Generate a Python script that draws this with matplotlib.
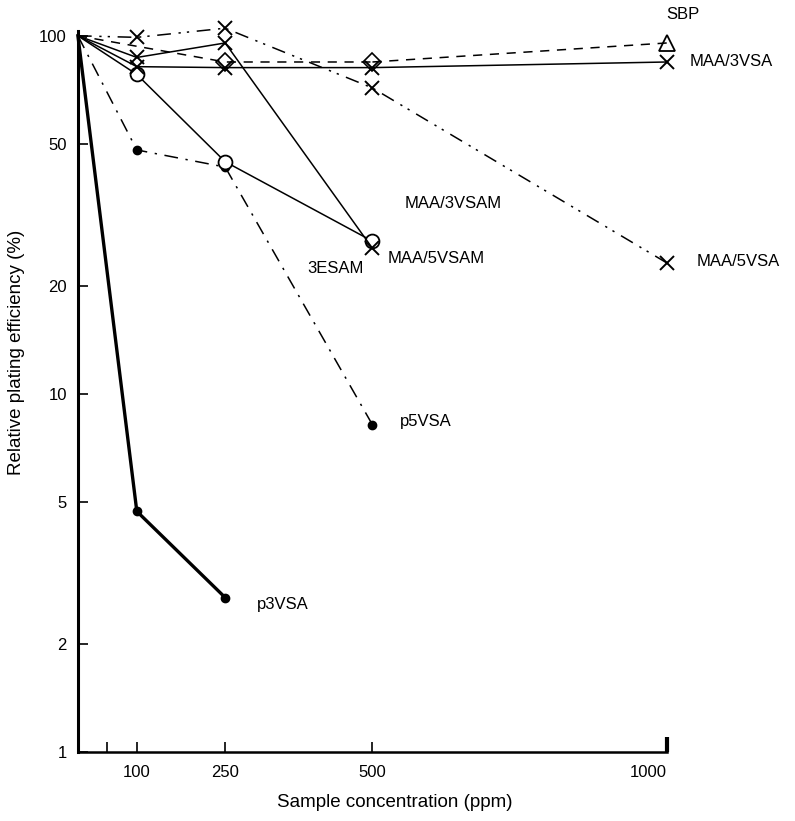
import matplotlib
matplotlib.use("Agg")
import matplotlib.pyplot as plt

plt.rcParams.update({
    "font.family": ["Liberation Sans", "DejaVu Sans"],
    "font.size": 12,
})

# sample concentration (ppm) and relative plating efficiency (%)
conc = [0, 100, 250, 500, 1000]

p3vsa_x = [0, 100, 250]
p3vsa_y = [100, 4.7, 2.7]

p5vsa_x = [0, 100, 250, 500]
p5vsa_y = [100, 48, 43, 8.2]

esam_x = [0, 100, 250, 500]
esam_y = [100, 78, 44.5, 26.7]

maa3vsam_x = [0, 100, 250, 500]
maa3vsam_y = [100, 87, 95.5, 25.5]

maa3vsa_x = conc
maa3vsa_y = [100, 82, 81.5, 81.5, 84.5]

maa5vsa_x = conc
maa5vsa_y = [100, 99, 105, 71.5, 23.2]

sbp_x = [0, 250, 500, 1000]
sbp_y = [100, 84.5, 84.5, 95.5]

xticks = [50, 100, 250, 500, 1000]
xticklabels = ["", "100", "250", "500", "1000"]
yticks = [1, 2, 5, 10, 20, 50, 100]
yticklabels = ["1", "2", "5", "10", "20", "50", "100"]

fig = plt.figure(figsize=(7.95, 8.21), dpi=100)
ax = fig.add_axes([0.098, 0.084, 0.741, 0.878])
ax.set_yscale("log")
ax.set_xlim(0, 1000)
ax.set_ylim(1, 103)

for s in ("top", "right"):
    ax.spines[s].set_visible(False)
ax.spines["left"].set_linewidth(2.2)
ax.spines["bottom"].set_linewidth(1.8)

every = slice(1, None)
ax.plot(p3vsa_x, p3vsa_y, color="black", lw=2.4, marker="o", ms=6,
        markevery=every, clip_on=False)
ax.plot(p5vsa_x, p5vsa_y, color="black", lw=1.1, dashes=(9, 5, 1.5, 5),
        marker="o", ms=6, markevery=every, clip_on=False)
ax.plot(esam_x, esam_y, color="black", lw=1.1, marker="o", ms=10,
        mfc="white", mew=1.3, markevery=every, clip_on=False)
ax.plot(maa3vsam_x, maa3vsam_y, color="black", lw=1.1, marker="x", ms=10,
        mew=1.4, markevery=every, clip_on=False)
ax.plot(maa3vsa_x, maa3vsa_y, color="black", lw=1.1, marker="x", ms=10,
        mew=1.4, markevery=every, clip_on=False)
ax.plot(maa5vsa_x, maa5vsa_y, color="black", lw=1.1,
        dashes=(9, 5, 1.5, 4, 1.5, 5), marker="x", ms=10, mew=1.4,
        markevery=every, clip_on=False)
ax.plot(sbp_x[:-1], sbp_y[:-1], color="black", lw=1.1, dashes=(6, 5),
        marker="D", ms=9, mfc="none", mew=1.2, markevery=every,
        clip_on=False)
ax.plot(sbp_x[-2:], sbp_y[-2:], color="black", lw=1.1, dashes=(6, 5),
        clip_on=False)
ax.plot(sbp_x[-1], sbp_y[-1], marker="^", ms=11, mfc="none", mec="black",
        mew=1.3, clip_on=False)

ax.set_xticks(xticks)
ax.set_xticklabels(xticklabels)
ax.set_yticks(yticks)
ax.set_yticklabels(yticklabels)
ax.yaxis.set_minor_locator(plt.NullLocator())
ax.tick_params(axis="x", direction="in", length=7, width=1.2, pad=9)
ax.tick_params(axis="y", direction="in", length=7, width=1.2, pad=8)
last = ax.xaxis.get_major_ticks()[-1]
last.tick1line.set_markeredgewidth(3)
last.tick1line.set_markersize(11)
last.label1.set_horizontalalignment("right")
last.label1.set_x(1005)

narrow = ["Liberation Sans Narrow", "Liberation Sans"]
ax.set_xlabel("Sample concentration (ppm)", fontsize=13.5, family=narrow)
ax.set_ylabel("Relative plating efficiency (%)", fontsize=13.5, family=narrow)
ax.xaxis.set_label_coords(0.538, -0.058)
ax.yaxis.set_label_coords(-0.09, 0.555)

labels = [
    ("SBP", 998, 115),
    ("MAA/3VSA", 1039, 84.5),
    ("MAA/3VSAM", 555, 34),
    ("MAA/5VSAM", 526, 23.9),
    ("3ESAM", 390, 22.4),
    ("MAA/5VSA", 1051, 23.5),
    ("p5VSA", 547, 8.4),
    ("p3VSA", 304, 2.58),
]
for text, x, y in labels:
    ax.text(x, y, text, ha="left", va="center", fontsize=12, clip_on=False)

fig.savefig("out.png", dpi=100)
